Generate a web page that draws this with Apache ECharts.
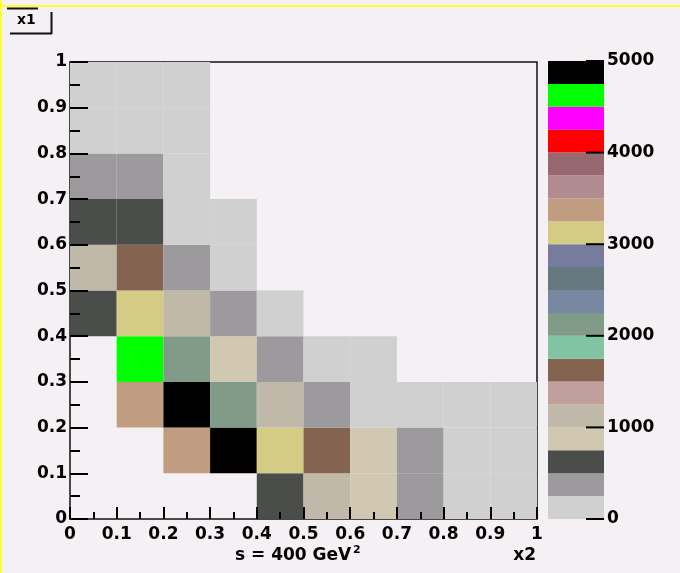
<!DOCTYPE html>
<html>
<head>
<meta charset="utf-8">
<script src="https://cdn.jsdelivr.net/npm/echarts@6/dist/echarts.min.js"></script>
<style>
  html, body { margin: 0; padding: 0; background: #f4f0f4; }
  #chart { width: 680px; height: 573px; }
</style>
</head>
<body>
<div id="chart"></div>
<script>
// Bin edges of the 2D histogram (x2 horizontally, x1 vertically)
const x2Edges = [0, 0.1, 0.2, 0.3, 0.4, 0.5, 0.6, 0.7, 0.8, 0.9, 1.0];
const x1Edges = [0, 0.1, 0.2, 0.3, 0.4, 0.5, 0.6, 0.7, 0.8, 0.9, 1.0];

// Bin contents, one array per x1 slice (bottom to top), indexed by x2 bin
const slice0 = [0, 0, 0, 0, 640, 1140, 880, 410, 170, 110];
const slice1 = [0, 0, 3360, 4890, 3080, 1630, 900, 360, 140, 90];
const slice2 = [0, 3420, 4950, 2130, 1150, 390, 180, 120, 100, 70];
const slice3 = [0, 4640, 2160, 910, 420, 200, 130, 0, 0, 0];
const slice4 = [680, 3150, 1120, 430, 210, 0, 0, 0, 0, 0];
const slice5 = [1170, 1640, 400, 190, 0, 0, 0, 0, 0, 0];
const slice6 = [600, 660, 220, 150, 0, 0, 0, 0, 0, 0];
const slice7 = [440, 470, 230, 0, 0, 0, 0, 0, 0, 0];
const slice8 = [160, 200, 180, 0, 0, 0, 0, 0, 0, 0];
const slice9 = [90, 120, 140, 0, 0, 0, 0, 0, 0, 0];
const slices = [slice0, slice1, slice2, slice3, slice4, slice5, slice6, slice7, slice8, slice9];

// Colour palette: 20 contour levels from 0 to 5000
const zMin = 0;
const zMax = 5000;
const zTickStep = 1000;
const zTicks = [0, 1000, 2000, 3000, 4000, 5000];
const paletteColors = [
  '#d0d0d0', '#9c9a9c', '#4a4d4a', '#d0c8b0', '#c0b8a8',
  '#c0a09c', '#846450', '#80c4a4', '#809c88', '#7888a0',
  '#687880', '#787c9c', '#d4cc84', '#c09c80', '#b08c90',
  '#986870', '#ff0000', '#ff00ff', '#00ff00', '#000000'
];

// Axis texts
const xAxisTitle = 'x2';
const yAxisTitle = 'x1';
const energyText = 's = 400 GeV';
const energyExp = '2';

const levelStep = (zMax - zMin) / paletteColors.length;
function levelColor(v) {
  const k = Math.min(paletteColors.length - 1, Math.max(0, Math.floor((v - zMin) / levelStep)));
  return paletteColors[k];
}

// cells: [x2lo, x2hi, x1lo, x1hi, content]
const cells = [];
slices.forEach((row, j) => {
  row.forEach((v, i) => {
    if (v > 0) cells.push([x2Edges[i], x2Edges[i + 1], x1Edges[j], x1Edges[j + 1], v]);
  });
});

// palette bands: [lo, hi, index]
const bands = paletteColors.map((c, k) => [zMin + k * levelStep, zMin + (k + 1) * levelStep, k]);

const FONT = 'DejaVu Sans';
const TEXT_FONT = 'bold 17px "DejaVu Sans"';
const tickFmt = v => (v === 0 ? '0' : v === 1 ? '1' : v.toFixed(1));
const labelStyle = { color: '#000', fontFamily: FONT, fontSize: 17, fontWeight: 'bold' };

const chart = echarts.init(document.getElementById('chart'), null, { renderer: 'canvas' });

chart.setOption({
  backgroundColor: '#f4f0f4',
  animation: false,
  grid: [
    { left: 70, top: 62, width: 467, height: 457, show: true,
      borderColor: '#111', borderWidth: 1.5, backgroundColor: 'transparent' },
    { left: 548, top: 61, width: 56, height: 458, show: false }
  ],
  xAxis: [
    {
      gridIndex: 0, type: 'value', min: 0, max: 1, interval: 0.1, z: 10,
      axisLine: { show: false },
      axisTick: { show: true, inside: true, length: 12, lineStyle: { color: '#000', width: 2 } },
      minorTick: { show: true, splitNumber: 2, length: 7, lineStyle: { color: '#000', width: 2 } },
      splitLine: { show: false },
      axisLabel: Object.assign({ margin: 7, formatter: tickFmt }, labelStyle)
    },
    { gridIndex: 1, type: 'value', min: 0, max: 1, show: false }
  ],
  yAxis: [
    {
      gridIndex: 0, type: 'value', min: 0, max: 1, interval: 0.1, z: 10,
      axisLine: { show: false },
      axisTick: { show: true, inside: true, length: 18, lineStyle: { color: '#000', width: 2 } },
      minorTick: { show: true, splitNumber: 2, length: 10, lineStyle: { color: '#000', width: 2 } },
      splitLine: { show: false },
      axisLabel: Object.assign({ margin: 3, formatter: tickFmt }, labelStyle)
    },
    {
      gridIndex: 1, type: 'value', position: 'right', min: zMin, max: zMax, interval: zTickStep, z: 10,
      axisLine: { show: false },
      axisTick: { show: false },
      splitLine: { show: false },
      axisLabel: Object.assign({ margin: 3, formatter: v => String(v) }, labelStyle)
    }
  ],
  series: [
    {
      type: 'custom', xAxisIndex: 0, yAxisIndex: 0,
      encode: { x: [0, 1], y: [2, 3] },
      data: cells,
      renderItem: (params, api) => {
        const a = api.coord([api.value(0), api.value(3)]);
        const b = api.coord([api.value(1), api.value(2)]);
        return {
          type: 'rect',
          shape: { x: a[0], y: a[1], width: b[0] - a[0], height: b[1] - a[1] },
          style: { fill: levelColor(api.value(4)) }
        };
      }
    },
    {
      // colour bar
      type: 'custom', xAxisIndex: 1, yAxisIndex: 1,
      encode: { y: [0, 1] },
      data: bands,
      renderItem: (params, api) => {
        const a = api.coord([0, api.value(1)]);
        const b = api.coord([1, api.value(0)]);
        return {
          type: 'rect',
          shape: { x: a[0], y: a[1], width: b[0] - a[0], height: b[1] - a[1] },
          style: { fill: paletteColors[api.value(2)] }
        };
      }
    },
    {
      // colour bar ticks on its right edge
      type: 'custom', xAxisIndex: 1, yAxisIndex: 1, z: 5, clip: false,
      encode: { y: 0 },
      data: zTicks.map(v => [v]),
      renderItem: (params, api) => {
        const p = api.coord([1, api.value(0)]);
        return {
          type: 'line',
          shape: { x1: p[0] - 18, y1: p[1], x2: p[0], y2: p[1] },
          style: { stroke: '#000', lineWidth: 2 }
        };
      }
    }
  ],
  graphic: [
    // pad border
    { type: 'line', shape: { x1: 0, y1: 6, x2: 680, y2: 6 }, style: { stroke: '#ffff30', lineWidth: 2 } },
    { type: 'line', shape: { x1: 1, y1: 0, x2: 1, y2: 573 }, style: { stroke: '#ffff30', lineWidth: 2 } },
    // y axis title box
    { type: 'line', shape: { x1: 7, y1: 8.5, x2: 38, y2: 8.5 }, style: { stroke: '#111', lineWidth: 2 } },
    { type: 'line', shape: { x1: 51.5, y1: 12, x2: 51.5, y2: 34 }, style: { stroke: '#111', lineWidth: 2 } },
    { type: 'line', shape: { x1: 10, y1: 33.5, x2: 52, y2: 33.5 }, style: { stroke: '#111', lineWidth: 2 } },
    { type: 'text', left: 17, top: 13, style: { text: yAxisTitle, fill: '#000', font: 'bold 14px "DejaVu Sans"' } },
    // bottom texts
    { type: 'text', x: 235, y: 556, style: { text: energyText, fill: '#000', font: TEXT_FONT, textVerticalAlign: 'middle' } },
    { type: 'text', x: 353, y: 550, style: { text: energyExp, fill: '#000', font: 'bold 11px "DejaVu Sans"', textVerticalAlign: 'middle' } },
    { type: 'text', x: 536, y: 556, style: { text: xAxisTitle, fill: '#000', font: TEXT_FONT, textAlign: 'right', textVerticalAlign: 'middle' } },
    // texts of the pad above, cut by the top edge
    { type: 'text', x: 235, y: -4, style: { text: energyText, fill: '#000', font: TEXT_FONT, textVerticalAlign: 'middle' } },
    { type: 'text', x: 536, y: -4, style: { text: xAxisTitle, fill: '#000', font: TEXT_FONT, textAlign: 'right', textVerticalAlign: 'middle' } }
  ]
});
</script>
</body>
</html>
